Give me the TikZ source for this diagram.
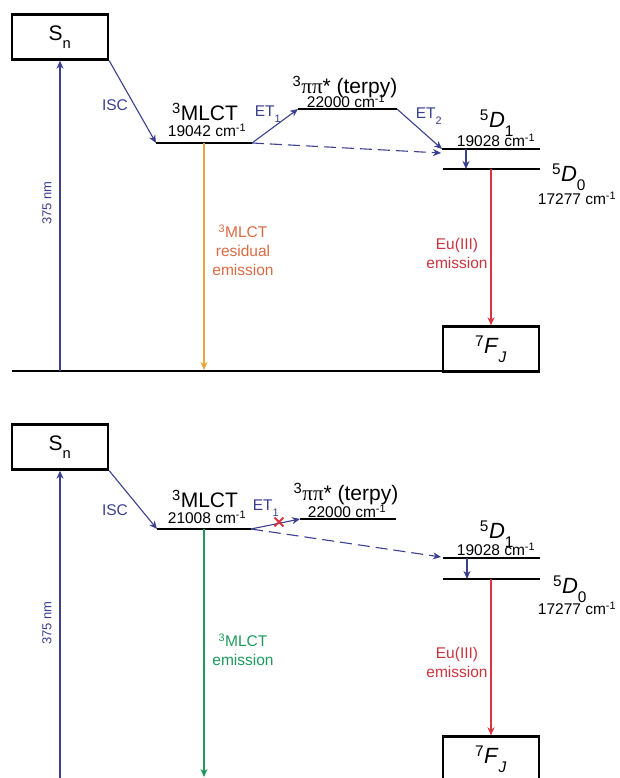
\documentclass[tikz,border=0pt]{standalone}
\usepackage{fontspec}
\setmainfont{Liberation Sans}
\newfontfamily\greekfont{Liberation Serif}
\usetikzlibrary{arrows.meta,shapes.misc}

\definecolor{navy}{HTML}{3A3F8E}
\definecolor{mlctorange}{HTML}{E9A53C}
\definecolor{mlcttext}{HTML}{D96B45}
\definecolor{euired}{HTML}{D9343F}
\definecolor{euitext}{HTML}{C9343F}
\definecolor{mlctgreen}{HTML}{1F9A5C}

\newcommand{\fs}[1]{\fontsize{#1}{19}\selectfont}
% subscript set a little lower than the default
\newcommand{\dsub}[1]{\textsubscript{\raisebox{-0.35em}{#1}}}

\tikzset{
  statebox/.style={draw, line width=2.4pt, minimum width=96pt, minimum height=45pt, inner sep=0pt},
  levelbar/.style={line width=2.4pt},
  groundbar/.style={line width=2.6pt},
  tip/.style={-{Stealth[length=8pt,width=7pt,inset=2.5pt]}},
  bluearrow/.style={tip, draw=navy, line width=1.1pt},
  dasharrow/.style={bluearrow, dash pattern=on 12pt off 6pt},
  emitarrow/.style={tip, line width=1.1pt},
  lbl/.style={inner sep=0pt, align=center},
  bluelbl/.style={lbl, text=navy, font=\fs{15.5}},
  numlbl/.style={lbl, font=\fs{15.5}},
  blocked/.style={cross out, draw=euired, line width=1.8pt, minimum size=7pt, inner sep=0pt},
}

\newcommand{\wn}[1]{#1 cm\textsuperscript{-1}}

\begin{document}
\begin{tikzpicture}[x=1pt, y=-1pt]
\useasboundingbox (0,0) rectangle (619,778);
\clip (0,0) rectangle (619,778);

% ---------- upper scheme: sensitised Eu(III) emission ----------
\begin{scope}
  \node[statebox] (sn) at (60,37) {\fs{21}S\dsub{n}};
  \node[statebox] (fj) at (491,349) {\fs{22}\textsuperscript{7}\textit{F}\dsub{\textit{J}}};

  \coordinate (gL) at (12,371);
  \coordinate (gR) at (443,371);
  \coordinate (mlctL) at (156,143);
  \coordinate (mlctR) at (252,143);
  \coordinate (ppL) at (298,109);
  \coordinate (ppR) at (397,109);
  \coordinate (dA) at (442,149);
  \coordinate (dB) at (540,149);
  \coordinate (dC) at (443,169);
  \coordinate (dD) at (540,169);
  \coordinate (exc) at (60,371);
  \coordinate (dIn) at (441,153);
  \coordinate (relaxA) at (466,149);
  \coordinate (relaxB) at (466,169);
  \coordinate (orTop) at (204,143);
  \coordinate (orBot) at (204,370);
  \coordinate (euTop) at (491,169);

  \draw[groundbar] (gL) -- (gR);
  \draw[levelbar] (mlctL) -- (mlctR);
  \draw[levelbar] (ppL) -- (ppR);
  \draw[levelbar] (dA) -- (dB);
  \draw[levelbar] (dC) -- (dD);

  \draw[bluearrow] (exc) -- (sn.south);
  \draw[bluearrow] (sn.south east) -- (mlctL);
  \draw[bluearrow] (mlctR) -- (ppL);
  \draw[bluearrow] (ppR) -- (dA);
  \draw[dasharrow] (mlctR) -- (dIn);
  \draw[bluearrow] (relaxA) -- (relaxB);
  \draw[emitarrow, draw=mlctorange] (orTop) -- (orBot);
  \draw[emitarrow, draw=euired] (euTop) -- (fj.north);

  \node[bluelbl, font=\fs{13}, rotate=90] (nm) at (47,203) {375 nm};
  \node[bluelbl] (isc) at (115,105) {ISC};
  \node[bluelbl] (et1) at (268,114) {ET\dsub{1}};
  \node[bluelbl] (et2) at (429,116) {ET\dsub{2}};

  \node[lbl, font=\fs{21}] (mlctname) at (205,112) {\textsuperscript{3}MLCT};
  \node[numlbl] (mlcte) at (207,130) {\wn{19042}};
  \node[lbl, font=\fs{21}] (ppname) at (345,87) {\textsuperscript{3}{\greekfont ππ}* (terpy)};
  \node[numlbl] (ppe) at (346,101) {\wn{22000}};
  \node[lbl, font=\fs{22}] (d1name) at (497,123) {\textsuperscript{5}\textit{D}\dsub{1}};
  \node[numlbl] (d1e) at (496,140) {\wn{19028}};
  \node[lbl, font=\fs{22}] (d0name) at (569,177) {\textsuperscript{5}\textit{D}\dsub{0}};
  \node[numlbl] (d0e) at (577,198) {\wn{17277}};

  \node[lbl, text=mlcttext, font=\fs{15.5}] (mlctem) at (243,250)
       {\textsuperscript{3}MLCT\\residual\\emission};
  \node[lbl, text=euitext, font=\fs{15.5}] (euem) at (457,253)
       {Eu(III)\\emission};
\end{scope}

% ---------- lower scheme: blocked ET1, direct 3MLCT emission ----------
\begin{scope}[shift={(0,410)}]
  \node[statebox] (snB) at (60,37) {\fs{21}S\dsub{n}};
  \node[statebox] (fjB) at (491,349) {\fs{22}\textsuperscript{7}\textit{F}\dsub{\textit{J}}};

  \coordinate (gLB) at (12,371);
  \coordinate (gRB) at (443,371);
  \coordinate (mlctLB) at (157,119);
  \coordinate (mlctRB) at (251,119);
  \coordinate (ppLB) at (300,109);
  \coordinate (ppRB) at (396,109);
  \coordinate (dAB) at (443,148);
  \coordinate (dBB) at (540,148);
  \coordinate (dCB) at (443,169);
  \coordinate (dDB) at (540,169);
  \coordinate (excB) at (60,371);
  \coordinate (dInB) at (441,147);
  \coordinate (relaxAB) at (467,148);
  \coordinate (relaxBB) at (467,169);
  \coordinate (grTop) at (204,119);
  \coordinate (grBot) at (204,367);
  \coordinate (euTopB) at (491,169);

  \draw[groundbar] (gLB) -- (gRB);
  \draw[levelbar] (mlctLB) -- (mlctRB);
  \draw[levelbar] (ppLB) -- (ppRB);
  \draw[levelbar] (dAB) -- (dBB);
  \draw[levelbar] (dCB) -- (dDB);

  \draw[bluearrow] (excB) -- (snB.south);
  \draw[bluearrow] (snB.south east) -- (mlctLB);
  \draw[bluearrow] (mlctRB) -- (ppLB);
  \draw[dasharrow] (mlctRB) -- (dInB);
  \draw[bluearrow] (relaxAB) -- (relaxBB);
  \draw[emitarrow, draw=mlctgreen] (grTop) -- (grBot);
  \draw[emitarrow, draw=euired] (euTopB) -- (fjB.north);
  \node[blocked] (stop) at (279,112) {};

  \node[bluelbl, font=\fs{13}, rotate=90] (nmB) at (47,213) {375 nm};
  \node[bluelbl] (iscB) at (115,100) {ISC};
  \node[bluelbl] (et1B) at (266,98) {ET\dsub{1}};

  \node[lbl, font=\fs{21}] (mlctnameB) at (205,89) {\textsuperscript{3}MLCT};
  \node[numlbl] (mlcteB) at (207,107) {\wn{21008}};
  \node[lbl, font=\fs{21}] (ppnameB) at (346,84) {\textsuperscript{3}{\greekfont ππ}* (terpy)};
  \node[numlbl] (ppeB) at (347,101) {\wn{22000}};
  \node[lbl, font=\fs{22}] (d1nameB) at (497,124) {\textsuperscript{5}\textit{D}\dsub{1}};
  \node[numlbl] (d1eB) at (496,139) {\wn{19028}};
  \node[lbl, font=\fs{22}] (d0nameB) at (570,179) {\textsuperscript{5}\textit{D}\dsub{0}};
  \node[numlbl] (d0eB) at (577,198) {\wn{17277}};

  \node[lbl, text=mlctgreen, font=\fs{15.5}] (mlctemB) at (243,240)
       {\textsuperscript{3}MLCT\\emission};
  \node[lbl, text=euitext, font=\fs{15.5}] (euemB) at (457,252)
       {Eu(III)\\emission};
\end{scope}
\end{tikzpicture}
\end{document}
